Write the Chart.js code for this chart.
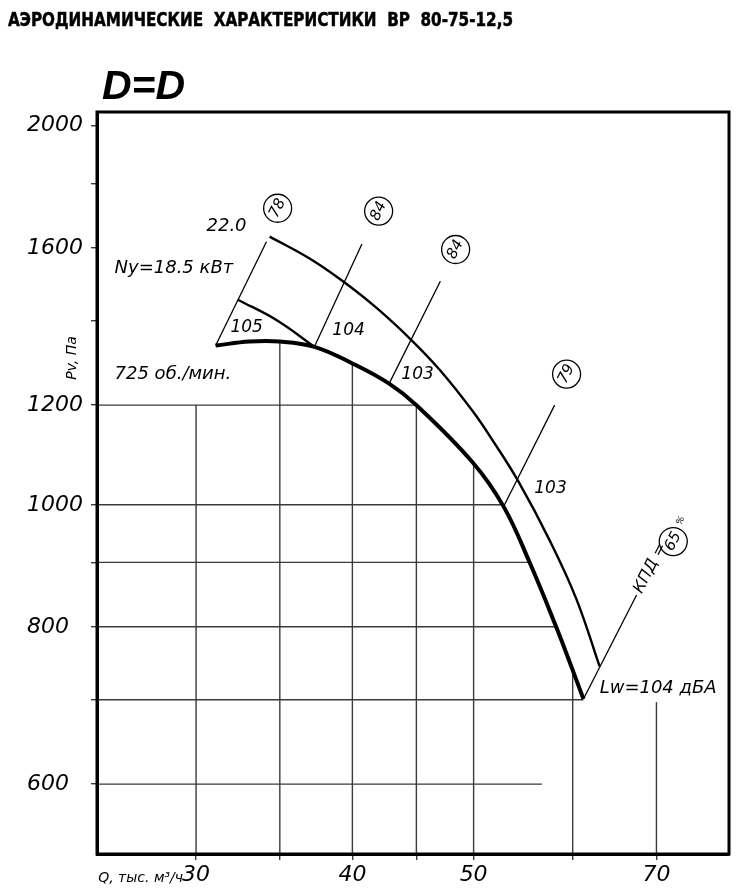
<!DOCTYPE html>
<html lang="ru">
<head>
<meta charset="utf-8">
<title>Аэродинамические характеристики ВР 80-75-12,5</title>
<script src="https://cdn.jsdelivr.net/npm/chart.js@4.4.1/dist/chart.umd.min.js"></script>
<style>
  html, body { margin: 0; padding: 0; background: #fff; }
  #wrap { width: 740px; height: 892px; }
</style>
</head>
<body>
<div id="wrap"><canvas id="fanChart" width="740" height="892"></canvas></div>
<script>
// Axis ranges and ticks (log-log chart)
const X_MIN = 25, X_MAX = 80;
const Y_MIN = 528, Y_MAX = 2051;
const xTicks = [30, 35, 40, 45, 50, 60, 70];
const xLabels = [30, 40, 50, 70];
const yTicks = [600, 700, 800, 900, 1000, 1200, 1400, 1600, 1800, 2000];
const yLabels = [600, 800, 1000, 1200, 1600, 2000];

// Pressure curve at 725 rpm (Q thousand m3/h, Pv Pa)
const mainQ = [31.1, 33.1, 35.0, 37.3, 40.0, 42.8, 45.0, 49.9, 52.8, 55.4, 58.2, 60.0, 61.2];
const mainP = [1338, 1348, 1348, 1335, 1295, 1248, 1200, 1081, 998, 901, 800, 739, 701];

// Upper boundary curve (22.0 kW)
const upperQ = [34.35, 36.97, 39.31, 41.8, 44.61, 46.97, 49.94, 51.81, 54.25, 57.51, 60.4, 63.05];
const upperP = [1633, 1569, 1505, 1434, 1351, 1280, 1186, 1124, 1045, 937, 842, 744];

// 18.5 kW boundary curve
const midQ = [32.4, 34.78, 37.3];
const midP = [1455, 1402, 1335];

// Efficiency rays: start on the curve, end near the circled value
const rayQ0 = [31.1, 37.3, 42.8, 52.84, 61.2];
const rayP0 = [1338, 1335, 1248, 997, 701];
const rayQ1 = [34.15, 40.71, 47.03, 58.04, 67.49];
const rayP1 = [1618, 1611, 1505, 1200, 848];
const effLabel = ['78', '84', '84', '79', '65'];
const effQ = [34.86, 41.98, 48.37, 59.33, 72.2];
const effP = [1720, 1711, 1595, 1270, 935];

// Partial grid lines
const hGridP = [1200, 1000, 900, 800, 700, 600];
const hGridEndQ = [45.0, 52.8, 55.4, 58.2, 61.2, 56.7];
const vGridQ = [30, 35, 40, 45, 50, 60, 70];
const vGridEndP = [1200, 1348, 1295, 1200, 1081, 739, 697];

// Text notes on the field
const noteText = ['22.0', 'Ny=18.5 кВт', '105', '104', '103', '103', '725 об./мин.', 'Lw=104 дБА'];
const noteQ = [31.73, 25.82, 32.93, 39.72, 45.1, 57.6, 25.82, 63.05];
const noteP = [1665, 1541, 1384, 1376, 1270, 1031, 1270, 715];
const noteSize = [18, 18, 17, 17, 17, 17, 18, 18];

const FONT = '"DejaVu Sans", sans-serif';
const gridColor = '#3a3a3a';

function pts(qs, ps) {
  return qs.map((q, i) => ({ x: q, y: ps[i] }));
}

const datasets = [];

hGridP.forEach((p, i) => {
  datasets.push({
    data: [{ x: X_MIN, y: p }, { x: hGridEndQ[i], y: p }],
    borderColor: gridColor, borderWidth: 1.4, pointRadius: 0, order: 5,
  });
});
vGridQ.forEach((q, i) => {
  datasets.push({
    data: [{ x: q, y: Y_MIN }, { x: q, y: vGridEndP[i] }],
    borderColor: gridColor, borderWidth: 1.4, pointRadius: 0, order: 5,
  });
});
rayQ0.forEach((q, i) => {
  datasets.push({
    data: [{ x: q, y: rayP0[i] }, { x: rayQ1[i], y: rayP1[i] }],
    borderColor: '#000', borderWidth: 1.3, pointRadius: 0, order: 3,
  });
});
datasets.push({
  data: pts(upperQ, upperP),
  borderColor: '#000', borderWidth: 2.4, pointRadius: 0, tension: 0.4, order: 2,
});
datasets.push({
  data: pts(midQ, midP),
  borderColor: '#000', borderWidth: 2.4, pointRadius: 0, tension: 0.4, order: 2,
});
datasets.push({
  data: pts(mainQ, mainP),
  borderColor: '#000', borderWidth: 4, pointRadius: 0, tension: 0.4, order: 1,
});
// circles around the efficiency values
datasets.push({
  data: pts(effQ, effP),
  showLine: false, pointRadius: 14, pointBorderWidth: 1.3,
  pointBackgroundColor: '#fff', pointBorderColor: '#000', order: 0,
});

// texts, frame and headings
const annotate = {
  id: 'annotate',
  afterDatasetsDraw(chart) {
    const c = chart.ctx, xs = chart.scales.x, ys = chart.scales.y, a = chart.chartArea;
    const at = (q, p) => [xs.getPixelForValue(q), ys.getPixelForValue(p)];
    c.save();

    // frame
    c.strokeStyle = '#000';
    c.lineWidth = 3;
    c.strokeRect(a.left, a.top, a.right - a.left, a.bottom - a.top);

    c.fillStyle = '#000';

    // circled efficiency values
    effLabel.forEach((t, i) => {
      const [cx, cy] = at(effQ[i], effP[i]);
      const [x0, y0] = at(rayQ0[i], rayP0[i]);
      const [x1, y1] = at(rayQ1[i], rayP1[i]);
      const ang = Math.atan2(y1 - y0, x1 - x0);
      c.save();
      c.translate(cx, cy);
      c.rotate(ang);
      c.font = 'italic 15px ' + FONT;
      c.textAlign = 'center';
      c.textBaseline = 'middle';
      c.fillText(t, 0, 0);
      if (i === 4) {
        c.font = 'italic 9px ' + FONT;
        c.fillText('%', 22, -3);
      }
      c.restore();
    });

    // КПД caption along the last ray
    {
      const [x0, y0] = at(rayQ0[4], rayP0[4]);
      const [x1, y1] = at(rayQ1[4], rayP1[4]);
      const ang = Math.atan2(y1 - y0, x1 - x0);
      c.save();
      c.translate(x1, y1);
      c.rotate(ang);
      c.font = 'italic 16px ' + FONT;
      c.textAlign = 'left';
      c.textBaseline = 'middle';
      c.fillText('КПД =', 3, 0);
      c.restore();
    }

    // notes
    c.textBaseline = 'middle';
    noteText.forEach((t, i) => {
      const [px, py] = at(noteQ[i], noteP[i]);
      c.font = 'italic ' + noteSize[i] + 'px ' + FONT;
      c.textAlign = (i === 1 || i === 6 || i === 7) ? 'left' : 'center';
      c.fillText(t, px, py);
    });

    // axis titles
    c.font = 'italic 14px ' + FONT;
    c.save();
    c.translate(a.left - 25, a.top + 246);
    c.rotate(-Math.PI / 2);
    c.textAlign = 'center';
    c.fillText('Pv, Па', 0, 0);
    c.restore();
    c.textAlign = 'right';
    c.fillText('Q, тыс. м³/ч', xs.getPixelForValue(30) - 13, a.bottom + 24);

    // heading
    c.font = 'bold 20px "Liberation Sans Narrow", "DejaVu Sans Condensed", sans-serif';
    c.textAlign = 'left';
    c.textBaseline = 'alphabetic';
    c.lineWidth = 0.5;
    const title = 'АЭРОДИНАМИЧЕСКИЕ  ХАРАКТЕРИСТИКИ  ВР  80-75-12,5';
    const w = c.measureText(title).width;
    c.save();
    c.translate(8, 26);
    c.scale(505 / w, 1);
    c.fillText(title, 0, 0);
    c.strokeText(title, 0, 0);
    c.restore();

    c.font = 'italic bold 41px "Liberation Sans", Arial, sans-serif';
    c.fillText('D=D', 102, 99);

    c.restore();
  },
};

const ctx = document.getElementById('fanChart').getContext('2d');

new Chart(ctx, {
  type: 'line',
  data: { datasets },
  options: {
    responsive: false,
    animation: false,
    events: [],
    layout: { autoPadding: false, padding: { left: 27, top: 112, right: 11, bottom: 0 } },
    plugins: {
      legend: { display: false },
      tooltip: { enabled: false },
    },
    scales: {
      x: {
        type: 'logarithmic',
        position: 'bottom',
        min: X_MIN,
        max: X_MAX,
        afterBuildTicks: (s) => { s.ticks = xTicks.map((v) => ({ value: v })); },
        afterFit: (s) => { s.height = 38; },
        ticks: {
          autoSkip: false,
          maxRotation: 0,
          padding: 2,
          color: '#000',
          font: { family: FONT, size: 22, style: 'italic' },
          callback: (v) => (xLabels.includes(v) ? String(v) : ''),
        },
        grid: { drawOnChartArea: false, drawTicks: true, tickLength: 6, color: gridColor, lineWidth: 1.4 },
        border: { display: true, color: '#000', width: 3 },
      },
      y: {
        type: 'logarithmic',
        position: 'left',
        min: Y_MIN,
        max: Y_MAX,
        afterBuildTicks: (s) => { s.ticks = yTicks.map((v) => ({ value: v })); },
        afterFit: (s) => { s.width = 70; },
        ticks: {
          autoSkip: false,
          crossAlign: 'far',
          color: '#000',
          font: { family: FONT, size: 22, style: 'italic' },
          callback: (v) => (yLabels.includes(v) ? String(v) : ''),
        },
        grid: { drawOnChartArea: false, drawTicks: true, tickLength: 6, color: gridColor, lineWidth: 1.4 },
        border: { display: true, color: '#000', width: 3 },
      },
    },
  },
  plugins: [annotate],
});
</script>
</body>
</html>
